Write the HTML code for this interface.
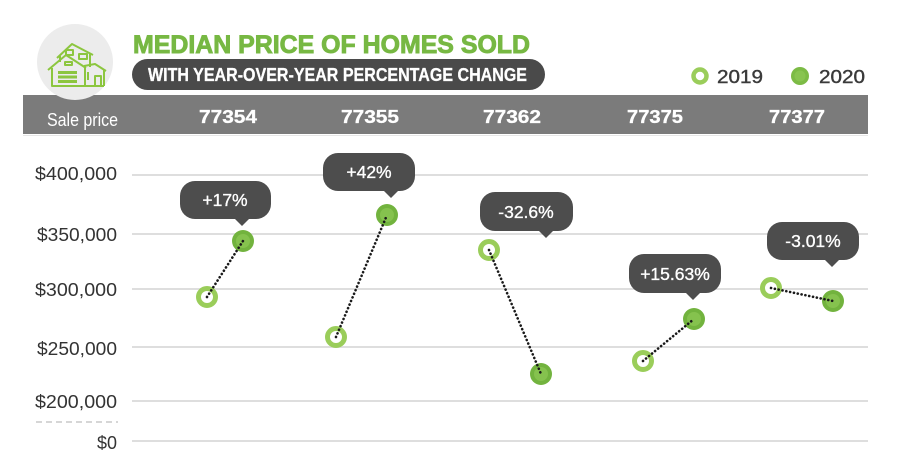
<!DOCTYPE html>
<html><head><meta charset="utf-8"><style>
html,body{margin:0;padding:0;background:#fff;}
svg{display:block;}
text{font-family:"Liberation Sans",sans-serif;}
</style></head><body>
<svg width="900" height="475" viewBox="0 0 900 475" xmlns="http://www.w3.org/2000/svg">
<rect width="900" height="475" fill="#fff"/>
<!-- title -->
<text x="133" y="53" font-size="25" font-weight="bold" fill="#77b843" stroke="#77b843" stroke-width="0.9" textLength="397" lengthAdjust="spacingAndGlyphs">MEDIAN PRICE OF HOMES SOLD</text>
<rect x="132" y="59" width="413" height="31" rx="15.5" fill="#4a4a4a"/>
<text x="148" y="81" font-size="18.5" font-weight="bold" fill="#fff" stroke="#fff" stroke-width="0.3" textLength="379" lengthAdjust="spacingAndGlyphs">WITH YEAR-OVER-YEAR PERCENTAGE CHANGE</text>
<!-- legend -->
<circle cx="700" cy="76" r="6.5" fill="#fff" stroke="#9acd5a" stroke-width="4.5"/>
<text x="717" y="83" font-size="18.5" fill="#3a3a3a" stroke="#3a3a3a" stroke-width="0.4" textLength="46" lengthAdjust="spacingAndGlyphs">2019</text>
<circle cx="800" cy="76" r="9" fill="#7cbb45"/>
<circle cx="800" cy="76" r="5.5" fill="#88c450"/>
<text x="819" y="83" font-size="18.5" fill="#3a3a3a" stroke="#3a3a3a" stroke-width="0.4" textLength="46" lengthAdjust="spacingAndGlyphs">2020</text>
<!-- band -->
<rect x="23" y="95" width="845" height="39" fill="#7b7b7b"/>
<line x1="23" y1="135.5" x2="868" y2="135.5" stroke="#e6e6e6" stroke-width="1"/>
<!-- icon circle -->
<circle cx="75" cy="62" r="38" fill="#ececec"/>
<g fill="none" stroke="#8cc63f" stroke-width="2" stroke-linejoin="round">
  <polyline points="57,58 72,44 93,55"/>
  <line x1="60" y1="56" x2="60" y2="62"/>
  <line x1="90" y1="54" x2="90" y2="67"/>
  <rect x="66" y="50" width="7" height="5"/>
  <rect x="79" y="54" width="8" height="5"/>
  <polyline points="48,70 66,55 86,68"/>
  <polyline points="52,68 52,86 85,86 85,68"/>
  <rect x="65" y="62" width="7" height="3"/>
  <polyline points="84,66 95,64 106,71"/>
  <line x1="104" y1="70" x2="104" y2="86"/>
  <line x1="85" y1="86" x2="104" y2="86"/>
  <rect x="95" y="76" width="6" height="10"/>
  <line x1="88" y1="72" x2="88" y2="80"/>
</g>
<g fill="#8cc63f">
  <rect x="58" y="71" width="19" height="3"/>
  <rect x="58" y="75.5" width="19" height="3"/>
  <rect x="58" y="80" width="19" height="3"/>
</g>
<!-- band text -->
<text x="47" y="126" font-size="18.5" fill="#fff" textLength="71" lengthAdjust="spacingAndGlyphs">Sale price</text>
<g font-size="18" font-weight="bold" fill="#fff" stroke="#fff" stroke-width="0.3" text-anchor="middle">
  <text x="228" y="123" textLength="58" lengthAdjust="spacingAndGlyphs">77354</text>
  <text x="370" y="123" textLength="58" lengthAdjust="spacingAndGlyphs">77355</text>
  <text x="512" y="123" textLength="58" lengthAdjust="spacingAndGlyphs">77362</text>
  <text x="655" y="123" textLength="56" lengthAdjust="spacingAndGlyphs">77375</text>
  <text x="797" y="123" textLength="56" lengthAdjust="spacingAndGlyphs">77377</text>
</g>
<!-- gridlines -->
<g stroke="#dedede" stroke-width="2">
  <line x1="132" y1="175" x2="868" y2="175"/>
  <line x1="132" y1="234" x2="868" y2="234"/>
  <line x1="132" y1="289" x2="868" y2="289"/>
  <line x1="132" y1="347" x2="868" y2="347"/>
  <line x1="132" y1="401" x2="868" y2="401"/>
  <line x1="132" y1="441" x2="868" y2="441"/>
</g>
<line x1="36" y1="422" x2="118" y2="422" stroke="#d6d6d6" stroke-width="2" stroke-dasharray="6 4"/>
<!-- y labels -->
<g font-size="18" fill="#333" text-anchor="end">
  <text x="117" y="180" textLength="82" lengthAdjust="spacingAndGlyphs">$400,000</text>
  <text x="117" y="241" textLength="80" lengthAdjust="spacingAndGlyphs">$350,000</text>
  <text x="117" y="296" textLength="82" lengthAdjust="spacingAndGlyphs">$300,000</text>
  <text x="117" y="355" textLength="80" lengthAdjust="spacingAndGlyphs">$250,000</text>
  <text x="117" y="408" textLength="82" lengthAdjust="spacingAndGlyphs">$200,000</text>
  <text x="117" y="449" textLength="20" lengthAdjust="spacingAndGlyphs">$0</text>
</g>
<!-- bubbles -->
<g fill="#4d4d4d">
  <rect x="180" y="181" width="91" height="38" rx="15"/>
  <polygon points="234,218 250,218 242,226"/>
  <rect x="323" y="153" width="92" height="38" rx="15"/>
  <polygon points="383,190 399,190 391,198"/>
  <rect x="480" y="192" width="93" height="39" rx="15"/>
  <polygon points="538,230 554,230 546,238"/>
  <rect x="629" y="254" width="92" height="39" rx="15"/>
  <polygon points="685,292 701,292 693,300"/>
  <rect x="767" y="222" width="92" height="38" rx="15"/>
  <polygon points="824,259 840,259 832,267"/>
</g>
<g font-size="17.5" fill="#fff" stroke="#fff" stroke-width="0.35" text-anchor="middle">
  <text x="225" y="206">+17%</text>
  <text x="369" y="178">+42%</text>
  <text x="526" y="218">-32.6%</text>
  <text x="675" y="280">+15.63%</text>
  <text x="813" y="247">-3.01%</text>
</g>
<!-- markers 2019 -->
<g fill="#fff" stroke="#9acd5a" stroke-width="5">
  <circle cx="207" cy="297" r="8.5"/>
  <circle cx="336" cy="337" r="8.5"/>
  <circle cx="489" cy="250" r="8.5"/>
  <circle cx="643" cy="361" r="8.5"/>
  <circle cx="771" cy="288" r="8.5"/>
</g>
<!-- markers 2020 -->
<g fill="#72b33e">
  <circle cx="243" cy="241" r="11"/>
  <circle cx="387" cy="215" r="11"/>
  <circle cx="541" cy="374" r="11"/>
  <circle cx="694" cy="319" r="11"/>
  <circle cx="833" cy="301" r="11"/>
</g>
<g fill="#85c24e">
  <circle cx="243" cy="241" r="7"/>
  <circle cx="387" cy="215" r="7"/>
  <circle cx="541" cy="374" r="7"/>
  <circle cx="694" cy="319" r="7"/>
  <circle cx="833" cy="301" r="7"/>
</g>
<!-- dotted connectors -->
<g stroke="#1a1a1a" stroke-width="2.6" stroke-linecap="round" stroke-dasharray="0.1 3.8">
  <line x1="207" y1="297" x2="243" y2="241"/>
  <line x1="336" y1="337" x2="387" y2="215"/>
  <line x1="489" y1="250" x2="541" y2="374"/>
  <line x1="643" y1="361" x2="694" y2="319"/>
  <line x1="771" y1="288" x2="833" y2="301"/>
</g>
</svg>
</body></html>
